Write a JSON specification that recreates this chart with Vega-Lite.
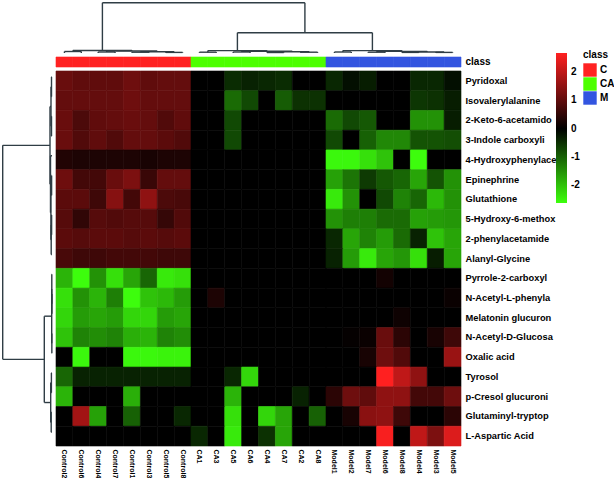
{
"$schema": "https://vega.github.io/schema/vega-lite/v6.json",
"padding": 0,
"background": "white",
"config": {"view": {"stroke": null}, "font": "Liberation Sans", "axis": {"labelFont": "Liberation Sans", "labelFontWeight": "bold", "labelColor": "#000", "ticks": false, "domain": false, "grid": false, "title": null}},
"datasets": {
"left": [
{"d1":0,"d2":0.5,"r1":0.5,"r2":0.5},{"d1":0,"d2":0.5,"r1":1.5,"r2":1.5},{"d1":0.5,"d2":0.5,"r1":0.5,"r2":1.5},
{"d1":0,"d2":0.5,"r1":2.5,"r2":2.5},{"d1":0,"d2":0.5,"r1":3.5,"r2":3.5},{"d1":0.5,"d2":0.5,"r1":2.5,"r2":3.5},
{"d1":0.5,"d2":1.0,"r1":1.0,"r2":1.0},{"d1":0.5,"d2":1.0,"r1":3.0,"r2":3.0},{"d1":1.0,"d2":1.0,"r1":1.0,"r2":3.0},
{"d1":0,"d2":0.4,"r1":5.5,"r2":5.5},{"d1":0,"d2":0.4,"r1":6.5,"r2":6.5},{"d1":0.4,"d2":0.4,"r1":5.5,"r2":6.5},
{"d1":0,"d2":0.4,"r1":7.5,"r2":7.5},{"d1":0,"d2":0.4,"r1":8.5,"r2":8.5},{"d1":0.4,"d2":0.4,"r1":7.5,"r2":8.5},
{"d1":0.4,"d2":0.8,"r1":8.0,"r2":8.0},{"d1":0,"d2":0.8,"r1":9.5,"r2":9.5},{"d1":0.8,"d2":0.8,"r1":8.0,"r2":9.5},
{"d1":0.4,"d2":1.1,"r1":6.0,"r2":6.0},{"d1":0.8,"d2":1.1,"r1":8.75,"r2":8.75},{"d1":1.1,"d2":1.1,"r1":6.0,"r2":8.75},
{"d1":0,"d2":1.5,"r1":4.5,"r2":4.5},{"d1":1.1,"d2":1.5,"r1":7.375,"r2":7.375},{"d1":1.5,"d2":1.5,"r1":4.5,"r2":7.375},
{"d1":1.0,"d2":2.0,"r1":2.0,"r2":2.0},{"d1":1.5,"d2":2.0,"r1":5.9375,"r2":5.9375},{"d1":2.0,"d2":2.0,"r1":2.0,"r2":5.9375},
{"d1":0,"d2":0.1,"r1":11.5,"r2":11.5},{"d1":0,"d2":0.1,"r1":12.5,"r2":12.5},{"d1":0.1,"d2":0.1,"r1":11.5,"r2":12.5},
{"d1":0,"d2":0.2,"r1":10.5,"r2":10.5},{"d1":0.1,"d2":0.2,"r1":12.0,"r2":12.0},{"d1":0.2,"d2":0.2,"r1":10.5,"r2":12.0},
{"d1":0,"d2":0.15,"r1":13.5,"r2":13.5},{"d1":0,"d2":0.15,"r1":14.5,"r2":14.5},{"d1":0.15,"d2":0.15,"r1":13.5,"r2":14.5},
{"d1":0.2,"d2":0.3,"r1":11.25,"r2":11.25},{"d1":0.15,"d2":0.3,"r1":14.0,"r2":14.0},{"d1":0.3,"d2":0.3,"r1":11.25,"r2":14.0},
{"d1":0,"d2":0.6,"r1":15.5,"r2":15.5},{"d1":0,"d2":0.6,"r1":16.5,"r2":16.5},{"d1":0.6,"d2":0.6,"r1":15.5,"r2":16.5},
{"d1":0,"d2":0.8,"r1":17.5,"r2":17.5},{"d1":0,"d2":0.8,"r1":18.5,"r2":18.5},{"d1":0.8,"d2":0.8,"r1":17.5,"r2":18.5},
{"d1":0.6,"d2":1.3,"r1":16.0,"r2":16.0},{"d1":0.8,"d2":1.3,"r1":18.0,"r2":18.0},{"d1":1.3,"d2":1.3,"r1":16.0,"r2":18.0},
{"d1":0.3,"d2":7.7,"r1":12.625,"r2":12.625},{"d1":1.3,"d2":7.7,"r1":17.0,"r2":17.0},{"d1":7.7,"d2":7.7,"r1":12.625,"r2":17.0},
{"d1":2.0,"d2":49.3,"r1":3.96875,"r2":3.96875},{"d1":7.7,"d2":49.3,"r1":14.8125,"r2":14.8125},{"d1":49.3,"d2":49.3,"r1":3.96875,"r2":14.8125}
],
"top": [
{"c1":0.5,"c2":0.5,"h1":0,"h2":1.5},{"c1":1.5,"c2":1.5,"h1":0,"h2":1.5},{"c1":0.5,"c2":1.5,"h1":1.5,"h2":1.5},
{"c1":2.5,"c2":2.5,"h1":0,"h2":1.0},{"c1":3.5,"c2":3.5,"h1":0,"h2":1.0},{"c1":2.5,"c2":3.5,"h1":1.0,"h2":1.0},
{"c1":4.5,"c2":4.5,"h1":0,"h2":0.8},{"c1":5.5,"c2":5.5,"h1":0,"h2":0.8},{"c1":4.5,"c2":5.5,"h1":0.8,"h2":0.8},
{"c1":6.5,"c2":6.5,"h1":0,"h2":0.6},{"c1":7.5,"c2":7.5,"h1":0,"h2":0.6},{"c1":6.5,"c2":7.5,"h1":0.6,"h2":0.6},
{"c1":5.0,"c2":5.0,"h1":0.8,"h2":1.2},{"c1":7.0,"c2":7.0,"h1":0.6,"h2":1.2},{"c1":5.0,"c2":7.0,"h1":1.2,"h2":1.2},
{"c1":3.0,"c2":3.0,"h1":1.0,"h2":2.0},{"c1":6.0,"c2":6.0,"h1":1.2,"h2":2.0},{"c1":3.0,"c2":6.0,"h1":2.0,"h2":2.0},
{"c1":1.0,"c2":1.0,"h1":1.5,"h2":2.5},{"c1":4.5,"c2":4.5,"h1":2.0,"h2":2.5},{"c1":1.0,"c2":4.5,"h1":2.5,"h2":2.5},
{"c1":8.5,"c2":8.5,"h1":0,"h2":0.8},{"c1":9.5,"c2":9.5,"h1":0,"h2":0.8},{"c1":8.5,"c2":9.5,"h1":0.8,"h2":0.8},
{"c1":10.5,"c2":10.5,"h1":0,"h2":1.0},{"c1":11.5,"c2":11.5,"h1":0,"h2":1.0},{"c1":10.5,"c2":11.5,"h1":1.0,"h2":1.0},
{"c1":12.5,"c2":12.5,"h1":0,"h2":0.5},{"c1":13.5,"c2":13.5,"h1":0,"h2":0.5},{"c1":12.5,"c2":13.5,"h1":0.5,"h2":0.5},
{"c1":14.5,"c2":14.5,"h1":0,"h2":0.8},{"c1":15.5,"c2":15.5,"h1":0,"h2":0.8},{"c1":14.5,"c2":15.5,"h1":0.8,"h2":0.8},
{"c1":13.0,"c2":13.0,"h1":0.5,"h2":1.3},{"c1":15.0,"c2":15.0,"h1":0.8,"h2":1.3},{"c1":13.0,"c2":15.0,"h1":1.3,"h2":1.3},
{"c1":11.0,"c2":11.0,"h1":1.0,"h2":1.8},{"c1":14.0,"c2":14.0,"h1":1.3,"h2":1.8},{"c1":11.0,"c2":14.0,"h1":1.8,"h2":1.8},
{"c1":9.0,"c2":9.0,"h1":0.8,"h2":2.4},{"c1":12.5,"c2":12.5,"h1":1.8,"h2":2.4},{"c1":9.0,"c2":12.5,"h1":2.4,"h2":2.4},
{"c1":16.5,"c2":16.5,"h1":0,"h2":1.0},{"c1":17.5,"c2":17.5,"h1":0,"h2":1.0},{"c1":16.5,"c2":17.5,"h1":1.0,"h2":1.0},
{"c1":18.5,"c2":18.5,"h1":0,"h2":0.8},{"c1":19.5,"c2":19.5,"h1":0,"h2":0.8},{"c1":18.5,"c2":19.5,"h1":0.8,"h2":0.8},
{"c1":20.5,"c2":20.5,"h1":0,"h2":0.6},{"c1":21.5,"c2":21.5,"h1":0,"h2":0.6},{"c1":20.5,"c2":21.5,"h1":0.6,"h2":0.6},
{"c1":22.5,"c2":22.5,"h1":0,"h2":0.6},{"c1":23.5,"c2":23.5,"h1":0,"h2":0.6},{"c1":22.5,"c2":23.5,"h1":0.6,"h2":0.6},
{"c1":21.0,"c2":21.0,"h1":0.6,"h2":1.0},{"c1":23.0,"c2":23.0,"h1":0.6,"h2":1.0},{"c1":21.0,"c2":23.0,"h1":1.0,"h2":1.0},
{"c1":19.0,"c2":19.0,"h1":0.8,"h2":1.6},{"c1":22.0,"c2":22.0,"h1":1.0,"h2":1.6},{"c1":19.0,"c2":22.0,"h1":1.6,"h2":1.6},
{"c1":17.0,"c2":17.0,"h1":1.0,"h2":2.4},{"c1":20.5,"c2":20.5,"h1":1.6,"h2":2.4},{"c1":17.0,"c2":20.5,"h1":2.4,"h2":2.4},
{"c1":10.75,"c2":10.75,"h1":2.4,"h2":20.3},{"c1":18.75,"c2":18.75,"h1":2.4,"h2":20.3},{"c1":10.75,"c2":18.75,"h1":20.3,"h2":20.3},
{"c1":2.75,"c2":2.75,"h1":2.5,"h2":50.3},{"c1":14.75,"c2":14.75,"h1":20.3,"h2":50.3},{"c1":2.75,"c2":14.75,"h1":50.3,"h2":50.3}
],
"cls": [
{"s":"Control2","c":"C"},{"s":"Control6","c":"C"},{"s":"Control4","c":"C"},{"s":"Control7","c":"C"},{"s":"Control1","c":"C"},{"s":"Control3","c":"C"},{"s":"Control5","c":"C"},{"s":"Control8","c":"C"},
{"s":"CA1","c":"CA"},{"s":"CA3","c":"CA"},{"s":"CA5","c":"CA"},{"s":"CA6","c":"CA"},{"s":"CA4","c":"CA"},{"s":"CA7","c":"CA"},{"s":"CA2","c":"CA"},{"s":"CA8","c":"CA"},
{"s":"Model1","c":"M"},{"s":"Model2","c":"M"},{"s":"Model7","c":"M"},{"s":"Model6","c":"M"},{"s":"Model8","c":"M"},{"s":"Model4","c":"M"},{"s":"Model3","c":"M"},{"s":"Model5","c":"M"}
],
"heat": [
{"m":"Pyridoxal","s":"Control2","v":1.1},{"m":"Pyridoxal","s":"Control6","v":1.0},{"m":"Pyridoxal","s":"Control4","v":1.0},{"m":"Pyridoxal","s":"Control7","v":1.0},{"m":"Pyridoxal","s":"Control1","v":1.15},{"m":"Pyridoxal","s":"Control3","v":1.0},{"m":"Pyridoxal","s":"Control5","v":1.05},{"m":"Pyridoxal","s":"Control8","v":1.05},
{"m":"Pyridoxal","s":"CA1","v":0},{"m":"Pyridoxal","s":"CA3","v":0},{"m":"Pyridoxal","s":"CA5","v":-0.45},{"m":"Pyridoxal","s":"CA6","v":-0.35},{"m":"Pyridoxal","s":"CA4","v":-0.4},{"m":"Pyridoxal","s":"CA7","v":-0.45},{"m":"Pyridoxal","s":"CA2","v":0},{"m":"Pyridoxal","s":"CA8","v":0},
{"m":"Pyridoxal","s":"Model1","v":-0.4},{"m":"Pyridoxal","s":"Model2","v":-0.15},{"m":"Pyridoxal","s":"Model7","v":-0.3},{"m":"Pyridoxal","s":"Model6","v":0},{"m":"Pyridoxal","s":"Model8","v":0},{"m":"Pyridoxal","s":"Model4","v":-0.4},{"m":"Pyridoxal","s":"Model3","v":-0.4},{"m":"Pyridoxal","s":"Model5","v":-0.15},
{"m":"Isovalerylalanine","s":"Control2","v":1.05},{"m":"Isovalerylalanine","s":"Control6","v":1.05},{"m":"Isovalerylalanine","s":"Control4","v":1.05},{"m":"Isovalerylalanine","s":"Control7","v":1.05},{"m":"Isovalerylalanine","s":"Control1","v":1.15},{"m":"Isovalerylalanine","s":"Control3","v":1.05},{"m":"Isovalerylalanine","s":"Control5","v":1.05},{"m":"Isovalerylalanine","s":"Control8","v":1.05},
{"m":"Isovalerylalanine","s":"CA1","v":0},{"m":"Isovalerylalanine","s":"CA3","v":0},{"m":"Isovalerylalanine","s":"CA5","v":-1.1},{"m":"Isovalerylalanine","s":"CA6","v":-0.75},{"m":"Isovalerylalanine","s":"CA4","v":0},{"m":"Isovalerylalanine","s":"CA7","v":-0.95},{"m":"Isovalerylalanine","s":"CA2","v":-0.5},{"m":"Isovalerylalanine","s":"CA8","v":-0.5},
{"m":"Isovalerylalanine","s":"Model1","v":0},{"m":"Isovalerylalanine","s":"Model2","v":0},{"m":"Isovalerylalanine","s":"Model7","v":0},{"m":"Isovalerylalanine","s":"Model6","v":0},{"m":"Isovalerylalanine","s":"Model8","v":0},{"m":"Isovalerylalanine","s":"Model4","v":-0.55},{"m":"Isovalerylalanine","s":"Model3","v":-0.5},{"m":"Isovalerylalanine","s":"Model5","v":-0.3},
{"m":"2-Keto-6-acetamido","s":"Control2","v":1.1},{"m":"2-Keto-6-acetamido","s":"Control6","v":0.8},{"m":"2-Keto-6-acetamido","s":"Control4","v":1.0},{"m":"2-Keto-6-acetamido","s":"Control7","v":1.05},{"m":"2-Keto-6-acetamido","s":"Control1","v":1.1},{"m":"2-Keto-6-acetamido","s":"Control3","v":1.05},{"m":"2-Keto-6-acetamido","s":"Control5","v":0.85},{"m":"2-Keto-6-acetamido","s":"Control8","v":1.0},
{"m":"2-Keto-6-acetamido","s":"CA1","v":0},{"m":"2-Keto-6-acetamido","s":"CA3","v":0},{"m":"2-Keto-6-acetamido","s":"CA5","v":-0.75},{"m":"2-Keto-6-acetamido","s":"CA6","v":0},{"m":"2-Keto-6-acetamido","s":"CA4","v":0},{"m":"2-Keto-6-acetamido","s":"CA7","v":0},{"m":"2-Keto-6-acetamido","s":"CA2","v":0},{"m":"2-Keto-6-acetamido","s":"CA8","v":0},
{"m":"2-Keto-6-acetamido","s":"Model1","v":-1.1},{"m":"2-Keto-6-acetamido","s":"Model2","v":-0.75},{"m":"2-Keto-6-acetamido","s":"Model7","v":-0.9},{"m":"2-Keto-6-acetamido","s":"Model6","v":0},{"m":"2-Keto-6-acetamido","s":"Model8","v":0},{"m":"2-Keto-6-acetamido","s":"Model4","v":-1.5},{"m":"2-Keto-6-acetamido","s":"Model3","v":-1.5},{"m":"2-Keto-6-acetamido","s":"Model5","v":-0.3},
{"m":"3-Indole carboxyli","s":"Control2","v":1.1},{"m":"3-Indole carboxyli","s":"Control6","v":0.85},{"m":"3-Indole carboxyli","s":"Control4","v":1.0},{"m":"3-Indole carboxyli","s":"Control7","v":0.85},{"m":"3-Indole carboxyli","s":"Control1","v":1.05},{"m":"3-Indole carboxyli","s":"Control3","v":1.05},{"m":"3-Indole carboxyli","s":"Control5","v":0.95},{"m":"3-Indole carboxyli","s":"Control8","v":0.85},
{"m":"3-Indole carboxyli","s":"CA1","v":0},{"m":"3-Indole carboxyli","s":"CA3","v":0},{"m":"3-Indole carboxyli","s":"CA5","v":-0.75},{"m":"3-Indole carboxyli","s":"CA6","v":0},{"m":"3-Indole carboxyli","s":"CA4","v":0},{"m":"3-Indole carboxyli","s":"CA7","v":0},{"m":"3-Indole carboxyli","s":"CA2","v":0},{"m":"3-Indole carboxyli","s":"CA8","v":0},
{"m":"3-Indole carboxyli","s":"Model1","v":-0.75},{"m":"3-Indole carboxyli","s":"Model2","v":0},{"m":"3-Indole carboxyli","s":"Model7","v":-1.0},{"m":"3-Indole carboxyli","s":"Model6","v":-1.4},{"m":"3-Indole carboxyli","s":"Model8","v":-1.4},{"m":"3-Indole carboxyli","s":"Model4","v":-0.85},{"m":"3-Indole carboxyli","s":"Model3","v":-0.85},{"m":"3-Indole carboxyli","s":"Model5","v":-0.8},
{"m":"4-Hydroxyphenylace","s":"Control2","v":0.35},{"m":"4-Hydroxyphenylace","s":"Control6","v":0.3},{"m":"4-Hydroxyphenylace","s":"Control4","v":0.3},{"m":"4-Hydroxyphenylace","s":"Control7","v":0.3},{"m":"4-Hydroxyphenylace","s":"Control1","v":0.3},{"m":"4-Hydroxyphenylace","s":"Control3","v":0.25},{"m":"4-Hydroxyphenylace","s":"Control5","v":0.3},{"m":"4-Hydroxyphenylace","s":"Control8","v":0.3},
{"m":"4-Hydroxyphenylace","s":"CA1","v":0},{"m":"4-Hydroxyphenylace","s":"CA3","v":0},{"m":"4-Hydroxyphenylace","s":"CA5","v":0},{"m":"4-Hydroxyphenylace","s":"CA6","v":0},{"m":"4-Hydroxyphenylace","s":"CA4","v":0},{"m":"4-Hydroxyphenylace","s":"CA7","v":0},{"m":"4-Hydroxyphenylace","s":"CA2","v":0},{"m":"4-Hydroxyphenylace","s":"CA8","v":0},
{"m":"4-Hydroxyphenylace","s":"Model1","v":-2.55},{"m":"4-Hydroxyphenylace","s":"Model2","v":-2.55},{"m":"4-Hydroxyphenylace","s":"Model7","v":-2.3},{"m":"4-Hydroxyphenylace","s":"Model6","v":-2.0},{"m":"4-Hydroxyphenylace","s":"Model8","v":0},{"m":"4-Hydroxyphenylace","s":"Model4","v":-2.6},{"m":"4-Hydroxyphenylace","s":"Model3","v":0},{"m":"4-Hydroxyphenylace","s":"Model5","v":0},
{"m":"Epinephrine","s":"Control2","v":1.15},{"m":"Epinephrine","s":"Control6","v":0.7},{"m":"Epinephrine","s":"Control4","v":0.7},{"m":"Epinephrine","s":"Control7","v":1.1},{"m":"Epinephrine","s":"Control1","v":1.3},{"m":"Epinephrine","s":"Control3","v":0.6},{"m":"Epinephrine","s":"Control5","v":1.05},{"m":"Epinephrine","s":"Control8","v":1.05},
{"m":"Epinephrine","s":"CA1","v":0},{"m":"Epinephrine","s":"CA3","v":0},{"m":"Epinephrine","s":"CA5","v":0},{"m":"Epinephrine","s":"CA6","v":0},{"m":"Epinephrine","s":"CA4","v":0},{"m":"Epinephrine","s":"CA7","v":0},{"m":"Epinephrine","s":"CA2","v":0},{"m":"Epinephrine","s":"CA8","v":0},
{"m":"Epinephrine","s":"Model1","v":-1.65},{"m":"Epinephrine","s":"Model2","v":-1.2},{"m":"Epinephrine","s":"Model7","v":-0.6},{"m":"Epinephrine","s":"Model6","v":-0.9},{"m":"Epinephrine","s":"Model8","v":-1.05},{"m":"Epinephrine","s":"Model4","v":-1.7},{"m":"Epinephrine","s":"Model3","v":-0.85},{"m":"Epinephrine","s":"Model5","v":-1.5},
{"m":"Glutathione","s":"Control2","v":0.95},{"m":"Glutathione","s":"Control6","v":0.95},{"m":"Glutathione","s":"Control4","v":0.65},{"m":"Glutathione","s":"Control7","v":1.4},{"m":"Glutathione","s":"Control1","v":0.7},{"m":"Glutathione","s":"Control3","v":1.5},{"m":"Glutathione","s":"Control5","v":0.8},{"m":"Glutathione","s":"Control8","v":0.75},
{"m":"Glutathione","s":"CA1","v":0},{"m":"Glutathione","s":"CA3","v":0},{"m":"Glutathione","s":"CA5","v":0},{"m":"Glutathione","s":"CA6","v":0},{"m":"Glutathione","s":"CA4","v":0},{"m":"Glutathione","s":"CA7","v":0},{"m":"Glutathione","s":"CA2","v":0},{"m":"Glutathione","s":"CA8","v":0},
{"m":"Glutathione","s":"Model1","v":-2.4},{"m":"Glutathione","s":"Model2","v":-1.5},{"m":"Glutathione","s":"Model7","v":0},{"m":"Glutathione","s":"Model6","v":-0.75},{"m":"Glutathione","s":"Model8","v":-1.35},{"m":"Glutathione","s":"Model4","v":-1.05},{"m":"Glutathione","s":"Model3","v":-1.9},{"m":"Glutathione","s":"Model5","v":-1.5},
{"m":"5-Hydroxy-6-methox","s":"Control2","v":0.9},{"m":"5-Hydroxy-6-methox","s":"Control6","v":0.5},{"m":"5-Hydroxy-6-methox","s":"Control4","v":0.9},{"m":"5-Hydroxy-6-methox","s":"Control7","v":0.85},{"m":"5-Hydroxy-6-methox","s":"Control1","v":0.9},{"m":"5-Hydroxy-6-methox","s":"Control3","v":0.9},{"m":"5-Hydroxy-6-methox","s":"Control5","v":0.55},{"m":"5-Hydroxy-6-methox","s":"Control8","v":0.85},
{"m":"5-Hydroxy-6-methox","s":"CA1","v":0},{"m":"5-Hydroxy-6-methox","s":"CA3","v":0},{"m":"5-Hydroxy-6-methox","s":"CA5","v":0},{"m":"5-Hydroxy-6-methox","s":"CA6","v":0},{"m":"5-Hydroxy-6-methox","s":"CA4","v":0},{"m":"5-Hydroxy-6-methox","s":"CA7","v":0},{"m":"5-Hydroxy-6-methox","s":"CA2","v":0},{"m":"5-Hydroxy-6-methox","s":"CA8","v":0},
{"m":"5-Hydroxy-6-methox","s":"Model1","v":-1.5},{"m":"5-Hydroxy-6-methox","s":"Model2","v":-1.3},{"m":"5-Hydroxy-6-methox","s":"Model7","v":-1.3},{"m":"5-Hydroxy-6-methox","s":"Model6","v":-1.1},{"m":"5-Hydroxy-6-methox","s":"Model8","v":-1.1},{"m":"5-Hydroxy-6-methox","s":"Model4","v":-1.65},{"m":"5-Hydroxy-6-methox","s":"Model3","v":-1.6},{"m":"5-Hydroxy-6-methox","s":"Model5","v":-1.55},
{"m":"2-phenylacetamide","s":"Control2","v":0.95},{"m":"2-phenylacetamide","s":"Control6","v":0.9},{"m":"2-phenylacetamide","s":"Control4","v":0.95},{"m":"2-phenylacetamide","s":"Control7","v":0.95},{"m":"2-phenylacetamide","s":"Control1","v":0.9},{"m":"2-phenylacetamide","s":"Control3","v":0.95},{"m":"2-phenylacetamide","s":"Control5","v":0.9},{"m":"2-phenylacetamide","s":"Control8","v":0.95},
{"m":"2-phenylacetamide","s":"CA1","v":0},{"m":"2-phenylacetamide","s":"CA3","v":0},{"m":"2-phenylacetamide","s":"CA5","v":0},{"m":"2-phenylacetamide","s":"CA6","v":0},{"m":"2-phenylacetamide","s":"CA4","v":0},{"m":"2-phenylacetamide","s":"CA7","v":0},{"m":"2-phenylacetamide","s":"CA2","v":0},{"m":"2-phenylacetamide","s":"CA8","v":0},
{"m":"2-phenylacetamide","s":"Model1","v":-0.4},{"m":"2-phenylacetamide","s":"Model2","v":-1.7},{"m":"2-phenylacetamide","s":"Model7","v":-1.35},{"m":"2-phenylacetamide","s":"Model6","v":-1.6},{"m":"2-phenylacetamide","s":"Model8","v":-1.1},{"m":"2-phenylacetamide","s":"Model4","v":-0.35},{"m":"2-phenylacetamide","s":"Model3","v":-2.0},{"m":"2-phenylacetamide","s":"Model5","v":-1.7},
{"m":"Alanyl-Glycine","s":"Control2","v":0.75},{"m":"Alanyl-Glycine","s":"Control6","v":0.65},{"m":"Alanyl-Glycine","s":"Control4","v":0.65},{"m":"Alanyl-Glycine","s":"Control7","v":0.7},{"m":"Alanyl-Glycine","s":"Control1","v":0.7},{"m":"Alanyl-Glycine","s":"Control3","v":0.7},{"m":"Alanyl-Glycine","s":"Control5","v":0.65},{"m":"Alanyl-Glycine","s":"Control8","v":0.65},
{"m":"Alanyl-Glycine","s":"CA1","v":0},{"m":"Alanyl-Glycine","s":"CA3","v":0},{"m":"Alanyl-Glycine","s":"CA5","v":0},{"m":"Alanyl-Glycine","s":"CA6","v":0},{"m":"Alanyl-Glycine","s":"CA4","v":0},{"m":"Alanyl-Glycine","s":"CA7","v":0},{"m":"Alanyl-Glycine","s":"CA2","v":0},{"m":"Alanyl-Glycine","s":"CA8","v":0},
{"m":"Alanyl-Glycine","s":"Model1","v":-0.35},{"m":"Alanyl-Glycine","s":"Model2","v":-1.6},{"m":"Alanyl-Glycine","s":"Model7","v":-2.4},{"m":"Alanyl-Glycine","s":"Model6","v":-1.7},{"m":"Alanyl-Glycine","s":"Model8","v":-1.55},{"m":"Alanyl-Glycine","s":"Model4","v":-2.3},{"m":"Alanyl-Glycine","s":"Model3","v":-0.3},{"m":"Alanyl-Glycine","s":"Model5","v":-1.7},
{"m":"Pyrrole-2-carboxyl","s":"Control2","v":-1.85},{"m":"Pyrrole-2-carboxyl","s":"Control6","v":-2.6},{"m":"Pyrrole-2-carboxyl","s":"Control4","v":-1.5},{"m":"Pyrrole-2-carboxyl","s":"Control7","v":-2.3},{"m":"Pyrrole-2-carboxyl","s":"Control1","v":-1.7},{"m":"Pyrrole-2-carboxyl","s":"Control3","v":-1.05},{"m":"Pyrrole-2-carboxyl","s":"Control5","v":-2.4},{"m":"Pyrrole-2-carboxyl","s":"Control8","v":-2.3},
{"m":"Pyrrole-2-carboxyl","s":"CA1","v":0},{"m":"Pyrrole-2-carboxyl","s":"CA3","v":0},{"m":"Pyrrole-2-carboxyl","s":"CA5","v":0},{"m":"Pyrrole-2-carboxyl","s":"CA6","v":0},{"m":"Pyrrole-2-carboxyl","s":"CA4","v":0},{"m":"Pyrrole-2-carboxyl","s":"CA7","v":0},{"m":"Pyrrole-2-carboxyl","s":"CA2","v":0},{"m":"Pyrrole-2-carboxyl","s":"CA8","v":0},
{"m":"Pyrrole-2-carboxyl","s":"Model1","v":0},{"m":"Pyrrole-2-carboxyl","s":"Model2","v":0},{"m":"Pyrrole-2-carboxyl","s":"Model7","v":0},{"m":"Pyrrole-2-carboxyl","s":"Model6","v":0.2},{"m":"Pyrrole-2-carboxyl","s":"Model8","v":0},{"m":"Pyrrole-2-carboxyl","s":"Model4","v":0},{"m":"Pyrrole-2-carboxyl","s":"Model3","v":0},{"m":"Pyrrole-2-carboxyl","s":"Model5","v":0},
{"m":"N-Acetyl-L-phenyla","s":"Control2","v":-2.3},{"m":"N-Acetyl-L-phenyla","s":"Control6","v":-1.5},{"m":"N-Acetyl-L-phenyla","s":"Control4","v":-1.85},{"m":"N-Acetyl-L-phenyla","s":"Control7","v":-1.3},{"m":"N-Acetyl-L-phenyla","s":"Control1","v":-2.6},{"m":"N-Acetyl-L-phenyla","s":"Control3","v":-2.0},{"m":"N-Acetyl-L-phenyla","s":"Control5","v":-1.9},{"m":"N-Acetyl-L-phenyla","s":"Control8","v":-1.6},
{"m":"N-Acetyl-L-phenyla","s":"CA1","v":0},{"m":"N-Acetyl-L-phenyla","s":"CA3","v":0.3},{"m":"N-Acetyl-L-phenyla","s":"CA5","v":0},{"m":"N-Acetyl-L-phenyla","s":"CA6","v":0},{"m":"N-Acetyl-L-phenyla","s":"CA4","v":0},{"m":"N-Acetyl-L-phenyla","s":"CA7","v":0},{"m":"N-Acetyl-L-phenyla","s":"CA2","v":0},{"m":"N-Acetyl-L-phenyla","s":"CA8","v":0},
{"m":"N-Acetyl-L-phenyla","s":"Model1","v":0},{"m":"N-Acetyl-L-phenyla","s":"Model2","v":0},{"m":"N-Acetyl-L-phenyla","s":"Model7","v":0},{"m":"N-Acetyl-L-phenyla","s":"Model6","v":0},{"m":"N-Acetyl-L-phenyla","s":"Model8","v":0},{"m":"N-Acetyl-L-phenyla","s":"Model4","v":0},{"m":"N-Acetyl-L-phenyla","s":"Model3","v":0},{"m":"N-Acetyl-L-phenyla","s":"Model5","v":0.1},
{"m":"Melatonin glucuron","s":"Control2","v":-2.2},{"m":"Melatonin glucuron","s":"Control6","v":-1.6},{"m":"Melatonin glucuron","s":"Control4","v":-1.7},{"m":"Melatonin glucuron","s":"Control7","v":-1.6},{"m":"Melatonin glucuron","s":"Control1","v":-2.2},{"m":"Melatonin glucuron","s":"Control3","v":-2.2},{"m":"Melatonin glucuron","s":"Control5","v":-1.6},{"m":"Melatonin glucuron","s":"Control8","v":-1.7},
{"m":"Melatonin glucuron","s":"CA1","v":0},{"m":"Melatonin glucuron","s":"CA3","v":0},{"m":"Melatonin glucuron","s":"CA5","v":0},{"m":"Melatonin glucuron","s":"CA6","v":0},{"m":"Melatonin glucuron","s":"CA4","v":0},{"m":"Melatonin glucuron","s":"CA7","v":0},{"m":"Melatonin glucuron","s":"CA2","v":0},{"m":"Melatonin glucuron","s":"CA8","v":0},
{"m":"Melatonin glucuron","s":"Model1","v":0},{"m":"Melatonin glucuron","s":"Model2","v":0},{"m":"Melatonin glucuron","s":"Model7","v":0},{"m":"Melatonin glucuron","s":"Model6","v":0},{"m":"Melatonin glucuron","s":"Model8","v":0.15},{"m":"Melatonin glucuron","s":"Model4","v":0},{"m":"Melatonin glucuron","s":"Model3","v":0},{"m":"Melatonin glucuron","s":"Model5","v":0},
{"m":"N-Acetyl-D-Glucosa","s":"Control2","v":-2.0},{"m":"N-Acetyl-D-Glucosa","s":"Control6","v":-1.35},{"m":"N-Acetyl-D-Glucosa","s":"Control4","v":-1.45},{"m":"N-Acetyl-D-Glucosa","s":"Control7","v":-1.35},{"m":"N-Acetyl-D-Glucosa","s":"Control1","v":-1.8},{"m":"N-Acetyl-D-Glucosa","s":"Control3","v":-1.85},{"m":"N-Acetyl-D-Glucosa","s":"Control5","v":-1.35},{"m":"N-Acetyl-D-Glucosa","s":"Control8","v":-1.45},
{"m":"N-Acetyl-D-Glucosa","s":"CA1","v":0},{"m":"N-Acetyl-D-Glucosa","s":"CA3","v":0},{"m":"N-Acetyl-D-Glucosa","s":"CA5","v":0},{"m":"N-Acetyl-D-Glucosa","s":"CA6","v":0},{"m":"N-Acetyl-D-Glucosa","s":"CA4","v":0},{"m":"N-Acetyl-D-Glucosa","s":"CA7","v":0},{"m":"N-Acetyl-D-Glucosa","s":"CA2","v":0},{"m":"N-Acetyl-D-Glucosa","s":"CA8","v":0},
{"m":"N-Acetyl-D-Glucosa","s":"Model1","v":0},{"m":"N-Acetyl-D-Glucosa","s":"Model2","v":0.05},{"m":"N-Acetyl-D-Glucosa","s":"Model7","v":0.1},{"m":"N-Acetyl-D-Glucosa","s":"Model6","v":1.1},{"m":"N-Acetyl-D-Glucosa","s":"Model8","v":0.45},{"m":"N-Acetyl-D-Glucosa","s":"Model4","v":0},{"m":"N-Acetyl-D-Glucosa","s":"Model3","v":0.25},{"m":"N-Acetyl-D-Glucosa","s":"Model5","v":0.65},
{"m":"Oxalic acid","s":"Control2","v":0},{"m":"Oxalic acid","s":"Control6","v":-2.55},{"m":"Oxalic acid","s":"Control4","v":0},{"m":"Oxalic acid","s":"Control7","v":0},{"m":"Oxalic acid","s":"Control1","v":-2.55},{"m":"Oxalic acid","s":"Control3","v":-2.55},{"m":"Oxalic acid","s":"Control5","v":-2.5},{"m":"Oxalic acid","s":"Control8","v":-2.5},
{"m":"Oxalic acid","s":"CA1","v":0},{"m":"Oxalic acid","s":"CA3","v":0},{"m":"Oxalic acid","s":"CA5","v":0},{"m":"Oxalic acid","s":"CA6","v":0},{"m":"Oxalic acid","s":"CA4","v":0},{"m":"Oxalic acid","s":"CA7","v":0},{"m":"Oxalic acid","s":"CA2","v":0},{"m":"Oxalic acid","s":"CA8","v":0},
{"m":"Oxalic acid","s":"Model1","v":0},{"m":"Oxalic acid","s":"Model2","v":0},{"m":"Oxalic acid","s":"Model7","v":0.25},{"m":"Oxalic acid","s":"Model6","v":1.15},{"m":"Oxalic acid","s":"Model8","v":0.85},{"m":"Oxalic acid","s":"Model4","v":0},{"m":"Oxalic acid","s":"Model3","v":0},{"m":"Oxalic acid","s":"Model5","v":1.6},
{"m":"Tyrosol","s":"Control2","v":-1.05},{"m":"Tyrosol","s":"Control6","v":-0.35},{"m":"Tyrosol","s":"Control4","v":-0.35},{"m":"Tyrosol","s":"Control7","v":-0.35},{"m":"Tyrosol","s":"Control1","v":-0.35},{"m":"Tyrosol","s":"Control3","v":-0.35},{"m":"Tyrosol","s":"Control5","v":-0.35},{"m":"Tyrosol","s":"Control8","v":-0.35},
{"m":"Tyrosol","s":"CA1","v":0},{"m":"Tyrosol","s":"CA3","v":0},{"m":"Tyrosol","s":"CA5","v":-0.4},{"m":"Tyrosol","s":"CA6","v":-2.2},{"m":"Tyrosol","s":"CA4","v":0},{"m":"Tyrosol","s":"CA7","v":0},{"m":"Tyrosol","s":"CA2","v":0},{"m":"Tyrosol","s":"CA8","v":0},
{"m":"Tyrosol","s":"Model1","v":0},{"m":"Tyrosol","s":"Model2","v":0},{"m":"Tyrosol","s":"Model7","v":0},{"m":"Tyrosol","s":"Model6","v":2.67},{"m":"Tyrosol","s":"Model8","v":2.0},{"m":"Tyrosol","s":"Model4","v":1.5},{"m":"Tyrosol","s":"Model3","v":0},{"m":"Tyrosol","s":"Model5","v":0},
{"m":"p-Cresol glucuroni","s":"Control2","v":-1.85},{"m":"p-Cresol glucuroni","s":"Control6","v":0},{"m":"p-Cresol glucuroni","s":"Control4","v":0},{"m":"p-Cresol glucuroni","s":"Control7","v":0},{"m":"p-Cresol glucuroni","s":"Control1","v":-1.8},{"m":"p-Cresol glucuroni","s":"Control3","v":0},{"m":"p-Cresol glucuroni","s":"Control5","v":0},{"m":"p-Cresol glucuroni","s":"Control8","v":0},
{"m":"p-Cresol glucuroni","s":"CA1","v":0},{"m":"p-Cresol glucuroni","s":"CA3","v":0},{"m":"p-Cresol glucuroni","s":"CA5","v":-1.85},{"m":"p-Cresol glucuroni","s":"CA6","v":0},{"m":"p-Cresol glucuroni","s":"CA4","v":0},{"m":"p-Cresol glucuroni","s":"CA7","v":0},{"m":"p-Cresol glucuroni","s":"CA2","v":-0.35},{"m":"p-Cresol glucuroni","s":"CA8","v":0},
{"m":"p-Cresol glucuroni","s":"Model1","v":0.45},{"m":"p-Cresol glucuroni","s":"Model2","v":1.15},{"m":"p-Cresol glucuroni","s":"Model7","v":1.0},{"m":"p-Cresol glucuroni","s":"Model6","v":1.5},{"m":"p-Cresol glucuroni","s":"Model8","v":1.5},{"m":"p-Cresol glucuroni","s":"Model4","v":0.7},{"m":"p-Cresol glucuroni","s":"Model3","v":0.7},{"m":"p-Cresol glucuroni","s":"Model5","v":1.15},
{"m":"Glutaminyl-tryptop","s":"Control2","v":0},{"m":"Glutaminyl-tryptop","s":"Control6","v":1.7},{"m":"Glutaminyl-tryptop","s":"Control4","v":-1.65},{"m":"Glutaminyl-tryptop","s":"Control7","v":0},{"m":"Glutaminyl-tryptop","s":"Control1","v":-1.0},{"m":"Glutaminyl-tryptop","s":"Control3","v":0},{"m":"Glutaminyl-tryptop","s":"Control5","v":0},{"m":"Glutaminyl-tryptop","s":"Control8","v":-0.4},
{"m":"Glutaminyl-tryptop","s":"CA1","v":0},{"m":"Glutaminyl-tryptop","s":"CA3","v":0},{"m":"Glutaminyl-tryptop","s":"CA5","v":-2.3},{"m":"Glutaminyl-tryptop","s":"CA6","v":0},{"m":"Glutaminyl-tryptop","s":"CA4","v":-2.2},{"m":"Glutaminyl-tryptop","s":"CA7","v":-1.7},{"m":"Glutaminyl-tryptop","s":"CA2","v":0},{"m":"Glutaminyl-tryptop","s":"CA8","v":-1.0},
{"m":"Glutaminyl-tryptop","s":"Model1","v":0},{"m":"Glutaminyl-tryptop","s":"Model2","v":0.25},{"m":"Glutaminyl-tryptop","s":"Model7","v":1.45},{"m":"Glutaminyl-tryptop","s":"Model6","v":1.5},{"m":"Glutaminyl-tryptop","s":"Model8","v":0.65},{"m":"Glutaminyl-tryptop","s":"Model4","v":0},{"m":"Glutaminyl-tryptop","s":"Model3","v":0},{"m":"Glutaminyl-tryptop","s":"Model5","v":0.45},
{"m":"L-Aspartic Acid","s":"Control2","v":0},{"m":"L-Aspartic Acid","s":"Control6","v":0},{"m":"L-Aspartic Acid","s":"Control4","v":0},{"m":"L-Aspartic Acid","s":"Control7","v":0},{"m":"L-Aspartic Acid","s":"Control1","v":0},{"m":"L-Aspartic Acid","s":"Control3","v":0},{"m":"L-Aspartic Acid","s":"Control5","v":0},{"m":"L-Aspartic Acid","s":"Control8","v":0},
{"m":"L-Aspartic Acid","s":"CA1","v":-0.4},{"m":"L-Aspartic Acid","s":"CA3","v":0},{"m":"L-Aspartic Acid","s":"CA5","v":-2.4},{"m":"L-Aspartic Acid","s":"CA6","v":0},{"m":"L-Aspartic Acid","s":"CA4","v":-0.5},{"m":"L-Aspartic Acid","s":"CA7","v":-1.7},{"m":"L-Aspartic Acid","s":"CA2","v":0},{"m":"L-Aspartic Acid","s":"CA8","v":0},
{"m":"L-Aspartic Acid","s":"Model1","v":0},{"m":"L-Aspartic Acid","s":"Model2","v":0},{"m":"L-Aspartic Acid","s":"Model7","v":0},{"m":"L-Aspartic Acid","s":"Model6","v":2.6},{"m":"L-Aspartic Acid","s":"Model8","v":0},{"m":"L-Aspartic Acid","s":"Model4","v":2.0},{"m":"L-Aspartic Acid","s":"Model3","v":1.3},{"m":"L-Aspartic Acid","s":"Model5","v":2.3}
]
},
"spacing": 2,
"hconcat": [
{
"width": 52, "height": 442,
"data": {"name": "left"},
"mark": {"type": "rule", "color": "#2f3d45", "strokeWidth": 1.4},
"encoding": {
"x": {"field": "d1", "type": "quantitative", "scale": {"domain": [0, 52], "reverse": true, "nice": false, "zero": false}, "axis": null},
"x2": {"field": "d2"},
"y": {"field": "r1", "type": "quantitative", "scale": {"domain": [-3.3947, 19], "reverse": true, "nice": false, "zero": false}, "axis": null},
"y2": {"field": "r2"}
}
},
{
"spacing": 2,
"vconcat": [
{
"width": 405, "height": 53,
"data": {"name": "top"},
"mark": {"type": "rule", "color": "#2f3d45", "strokeWidth": 1.4},
"encoding": {
"x": {"field": "c1", "type": "quantitative", "scale": {"domain": [0, 24], "nice": false, "zero": false}, "axis": null},
"x2": {"field": "c2"},
"y": {"field": "h1", "type": "quantitative", "scale": {"domain": [0, 53], "nice": false, "zero": false}, "axis": null},
"y2": {"field": "h2"}
}
},
{
"width": 405, "height": 10,
"data": {"name": "cls"},
"mark": {"type": "rect", "strokeWidth": 0.6},
"encoding": {
"x": {"field": "s", "type": "nominal", "sort": null, "scale": {"paddingInner": 0, "paddingOuter": 0}, "axis": null},
"y": {"datum": "class", "type": "nominal", "axis": {"orient": "right", "labelFontSize": 10, "labelPadding": 4}},
"fill": {"field": "c", "type": "nominal", "scale": {"domain": ["C", "CA", "M"], "range": ["#ff2222", "#4dff00", "#3355e0"]},
"legend": {"orient": "none", "legendX": 583, "legendY": 50, "title": "class", "titleFont": "Liberation Sans", "titleFontSize": 10, "titleFontWeight": "bold", "titlePadding": 3, "symbolType": "square", "symbolSize": 180, "symbolStrokeWidth": 0, "labelFont": "Liberation Sans", "labelFontSize": 10, "labelFontWeight": "bold", "rowPadding": 0, "labelOffset": 3}},
"stroke": {"field": "c", "type": "nominal", "scale": {"domain": ["C", "CA", "M"], "range": ["#ff2222", "#4dff00", "#3355e0"]}, "legend": null}
}
},
{
"width": 405, "height": 375,
"data": {"name": "heat"},
"mark": {"type": "rect", "strokeWidth": 0.6},
"encoding": {
"x": {"field": "s", "type": "nominal", "sort": ["Control2","Control6","Control4","Control7","Control1","Control3","Control5","Control8","CA1","CA3","CA5","CA6","CA4","CA7","CA2","CA8","Model1","Model2","Model7","Model6","Model8","Model4","Model3","Model5"], "scale": {"paddingInner": 0, "paddingOuter": 0}, "axis": {"orient": "bottom", "labelAngle": 90, "labelFontSize": 7, "labelPadding": 3}},
"y": {"field": "m", "type": "nominal", "sort": ["Pyridoxal","Isovalerylalanine","2-Keto-6-acetamido","3-Indole carboxyli","4-Hydroxyphenylace","Epinephrine","Glutathione","5-Hydroxy-6-methox","2-phenylacetamide","Alanyl-Glycine","Pyrrole-2-carboxyl","N-Acetyl-L-phenyla","Melatonin glucuron","N-Acetyl-D-Glucosa","Oxalic acid","Tyrosol","p-Cresol glucuroni","Glutaminyl-tryptop","L-Aspartic Acid"], "scale": {"paddingInner": 0, "paddingOuter": 0}, "axis": {"orient": "right", "labelFontSize": 9.3, "labelPadding": 4, "labelLimit": 300}},
"color": {"field": "v", "type": "quantitative", "scale": {"domain": [-2.62, 0, 2.67], "range": ["#3dff0d", "#000000", "#ff2020"], "interpolate": "rgb"},
"legend": {"orient": "none", "legendX": 556, "legendY": 53, "title": null, "direction": "vertical", "gradientLength": 150, "gradientThickness": 11, "gradientStrokeWidth": 0, "values": [-2, -1, 0, 1, 2], "labelExpr": "datum.value < 0 ? '-' + abs(datum.value) : '' + datum.value", "labelFont": "Liberation Sans", "labelFontSize": 10, "labelFontWeight": "bold", "labelOffset": 4}},
"stroke": {"field": "v", "type": "quantitative", "scale": {"domain": [-2.62, 0, 2.67], "range": ["#3dff0d", "#000000", "#ff2020"], "interpolate": "rgb"}, "legend": null}
}
}
]
}
]
}
